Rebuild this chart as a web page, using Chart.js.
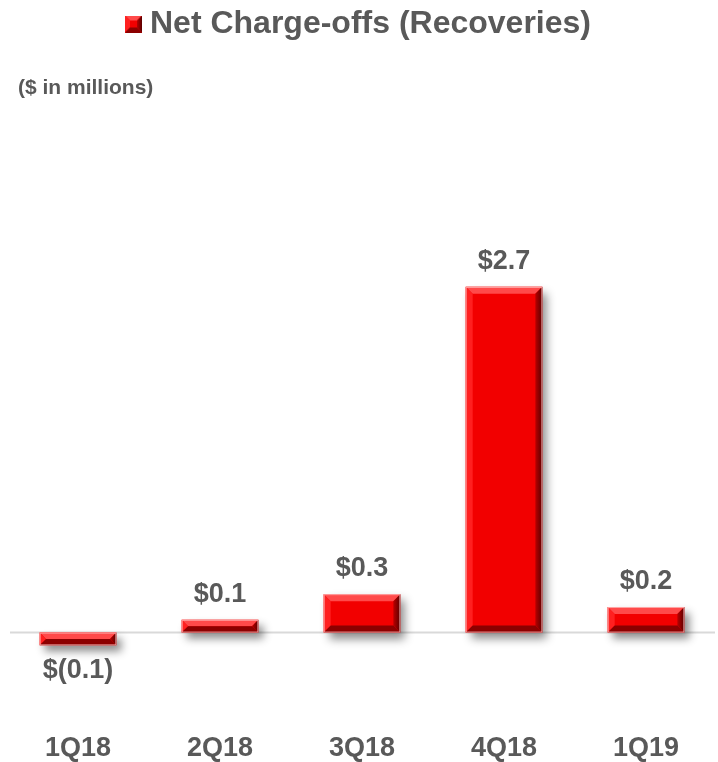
<!DOCTYPE html>
<html>
<head>
<meta charset="utf-8">
<script src="https://cdn.jsdelivr.net/npm/chart.js@4/dist/chart.umd.min.js"></script>
<style>
  html, body { margin: 0; padding: 0; background: #fff; }
  #chart { display: block; }
</style>
</head>
<body>
<canvas id="chart" width="718" height="762"></canvas>
<script>
const quarters = ['1Q18', '2Q18', '3Q18', '4Q18', '1Q19'];
const netChargeOffs = [-0.1, 0.1, 0.3, 2.7, 0.2];
const seriesName = 'Net Charge-offs (Recoveries)';
const unitNote = '($ in millions)';

const FONT = '"Liberation Sans", Arial, sans-serif';
const GREY = '#595959';
const RED = '#f20000';

function money(v) {
    const s = Math.abs(v).toFixed(1);
    return v < 0 ? '$(' + s + ')' : '$' + s;
}

function poly(ctx, pts, fill) {
    ctx.beginPath();
    ctx.moveTo(pts[0][0], pts[0][1]);
    for (let k = 1; k < pts.length; k++) ctx.lineTo(pts[k][0], pts[k][1]);
    ctx.closePath();
    ctx.fillStyle = fill;
    ctx.fill();
}

// bevel edges for a box l..r, t..b
function bevel(ctx, l, t, r, b, size) {
    const e = Math.min(size, (b - t) / 2, (r - l) / 2);
    poly(ctx, [[l, t], [r, t], [r - e, t + e], [l + e, t + e]], '#ff4a4a');
    poly(ctx, [[l, t], [l + e, t + e], [l + e, b - e], [l, b]], '#ff2020');
    const gr = ctx.createLinearGradient(r - e, 0, r, 0);
    gr.addColorStop(0, '#b80000');
    gr.addColorStop(1, '#5a0000');
    poly(ctx, [[r, t], [r, b], [r - e, b - e], [r - e, t + e]], gr);
    poly(ctx, [[l, b], [l + e, b - e], [r - e, b - e], [r, b]], '#8c0000');
}

// small bevelled swatch for the legend
const swatch = document.createElement('canvas');
swatch.width = 17;
swatch.height = 17;
(function () {
    const c = swatch.getContext('2d');
    c.fillStyle = RED;
    c.fillRect(0, 0, 17, 17);
    bevel(c, 0, 0, 17, 17, 5);
})();

// thin grey line at zero, drawn under the bars
const zeroLine = {
    id: 'zeroLine',
    beforeDatasetsDraw(chart) {
        const {ctx, chartArea, scales} = chart;
        const y = scales.y.getPixelForValue(0);
        ctx.save();
        ctx.strokeStyle = '#d9d9d9';
        ctx.lineWidth = 2;
        ctx.beginPath();
        ctx.moveTo(chartArea.left + 3, y);
        ctx.lineTo(chartArea.right - 2, y);
        ctx.stroke();
        ctx.restore();
    }
};

// soft drop shadow under each bar
const barShadow = {
    id: 'barShadow',
    beforeDatasetDraw(chart) {
        const ctx = chart.ctx;
        ctx.save();
        ctx.shadowColor = 'rgba(0,0,0,0.45)';
        ctx.shadowBlur = 9;
        ctx.shadowOffsetX = 5;
        ctx.shadowOffsetY = 6;
    },
    afterDatasetDraw(chart) {
        chart.ctx.restore();
    }
};

// bevelled edges plus the value labels
const bevelAndLabels = {
    id: 'bevelAndLabels',
    afterDatasetsDraw(chart) {
        const ctx = chart.ctx;
        const meta = chart.getDatasetMeta(0);
        meta.data.forEach((bar, i) => {
            const {x, y, base, width} = bar.getProps(['x', 'y', 'base', 'width'], true);
            const l = x - width / 2, r = x + width / 2;
            const t = Math.min(y, base), b = Math.max(y, base);
            ctx.save();
            bevel(ctx, l, t, r, b, 7);
            ctx.strokeStyle = 'rgba(255,190,190,0.8)';
            ctx.lineWidth = 1;
            ctx.strokeRect(l + 0.5, t + 0.5, width - 1, b - t - 1);
            ctx.restore();

            const v = netChargeOffs[i];
            ctx.save();
            ctx.font = 'bold 27px ' + FONT;
            ctx.fillStyle = GREY;
            ctx.textAlign = 'center';
            ctx.textBaseline = 'alphabetic';
            if (v >= 0) {
                ctx.fillText(money(v), x, t - 18);
            } else {
                ctx.fillText(money(v), x, b + 33);
            }
            ctx.restore();
        });

        ctx.save();
        ctx.font = 'bold 21px ' + FONT;
        ctx.fillStyle = GREY;
        ctx.textAlign = 'left';
        ctx.textBaseline = 'middle';
        ctx.fillText(unitNote, 18, 88);
        ctx.restore();
    }
};

new Chart(document.getElementById('chart'), {
    type: 'bar',
    data: {
        labels: quarters,
        datasets: [{
            label: seriesName,
            data: netChargeOffs,
            backgroundColor: RED,
            borderWidth: 0,
            barPercentage: 0.9,
            categoryPercentage: 0.6
        }]
    },
    options: {
        responsive: false,
        animation: false,
        layout: { padding: { left: 7, right: 1, top: 0, bottom: 0 } },
        plugins: {
            legend: {
                position: 'top',
                labels: {
                    color: GREY,
                    font: { family: FONT, size: 32, weight: 'bold' },
                    usePointStyle: true,
                    pointStyleWidth: 1,
                    boxHeight: 17,
                    padding: 8,
                    generateLabels(chart) {
                        return [{
                            text: seriesName,
                            fillStyle: RED,
                            strokeStyle: RED,
                            lineWidth: 0,
                            pointStyle: swatch,
                            fontColor: GREY,
                            datasetIndex: 0
                        }];
                    }
                }
            },
            tooltip: { enabled: false }
        },
        scales: {
            x: {
                grid: { display: false, drawTicks: false },
                border: { display: false },
                ticks: {
                    color: GREY,
                    padding: 0,
                    font: { family: FONT, size: 27, weight: 'bold', lineHeight: 1 }
                }
            },
            y: {
                display: false,
                min: -0.8,
                max: 4.55
            }
        }
    },
    plugins: [zeroLine, barShadow, bevelAndLabels]
});
</script>
</body>
</html>
